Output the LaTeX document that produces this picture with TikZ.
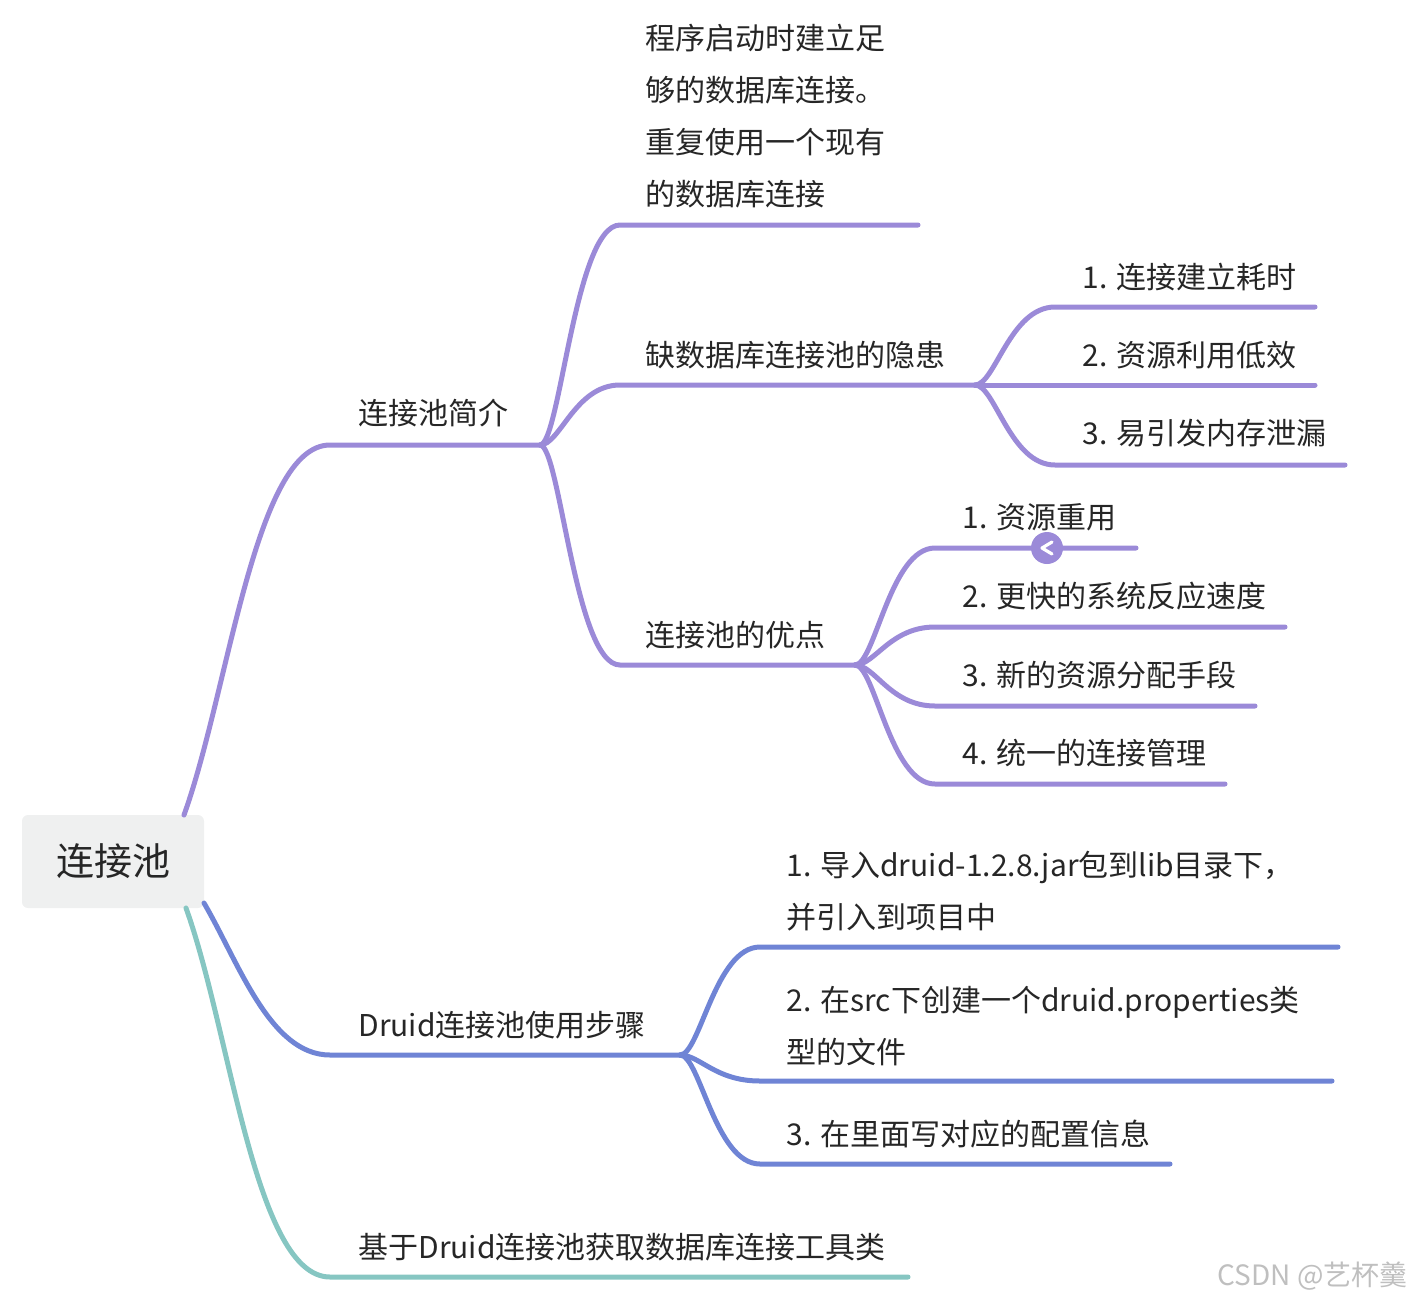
\documentclass[tikz,border=0pt]{standalone}
\usepackage{fontspec}
\setmainfont{Noto Sans CJK SC}

\definecolor{purp}{HTML}{9B8AD8}
\definecolor{blu}{HTML}{6F84D5}
\definecolor{aqua}{HTML}{86C6C2}
\definecolor{rootbg}{HTML}{EFF0F0}
\definecolor{ink}{HTML}{262626}

\begin{document}
\begin{tikzpicture}[x=0.5pt, y=-0.5pt,
    branch/.style={line width=2.5pt, line cap=round},
    lbl/.style={anchor=base west, inner sep=0pt, text=ink, align=left,
        font=\fontsize{15}{26}\selectfont}]
    \useasboundingbox (0,0) rectangle (1412,1301);

    % root
    \node[fill=rootbg, rounded corners=3pt, inner sep=0pt, minimum width=91pt, minimum height=46.5pt,
        text=ink, font=\fontsize{19}{22}\selectfont] (root) at (113,861.5) {连接池};

    \coordinate (rootN) at (184,815);
    \coordinate (rootE) at (204,903);
    \coordinate (rootS) at (186,908);
    \coordinate (introJ) at (540,445);
    \coordinate (riskJ) at (975,385);
    \coordinate (prosJ) at (855,665);
    \coordinate (druidJ) at (680,1055);

    % first level
    \draw[branch, purp] (rootN) .. controls +(45,-125) and +(-75,0) .. (330,445) -- (introJ);
    \draw[branch, blu] (rootE) .. controls +(35,60) and +(-60,0) .. (330,1055) -- (druidJ);
    \draw[branch, aqua] (rootS) .. controls +(45,125) and +(-75,0) .. (330,1277) -- (908,1277);

    % second level
    \draw[branch, purp] (introJ) .. controls +(20,0) and +(-45,0) .. (620,225) -- (918,225);
    \draw[branch, purp] (introJ) .. controls +(20,0) and +(-45,0) .. (620,385) -- (riskJ);
    \draw[branch, purp] (introJ) .. controls +(20,0) and +(-45,0) .. (620,665) -- (prosJ);

    \draw[branch, blu] (druidJ) .. controls +(20,0) and +(-45,0) .. (760,947) -- (1338,947);
    \draw[branch, blu] (druidJ) .. controls +(20,0) and +(-45,0) .. (760,1081) -- (1332,1081);
    \draw[branch, blu] (druidJ) .. controls +(20,0) and +(-45,0) .. (760,1164) -- (1170,1164);

    % third level
    \draw[branch, purp] (riskJ) .. controls +(20,0) and +(-45,0) .. (1055,307) -- (1315,307);
    \draw[branch, purp] (riskJ) -- (1315,385);
    \draw[branch, purp] (riskJ) .. controls +(20,0) and +(-45,0) .. (1055,465) -- (1345,465);

    \draw[branch, purp] (prosJ) .. controls +(20,0) and +(-45,0) .. (935,548) -- (1136,548);
    \draw[branch, purp] (prosJ) .. controls +(20,0) and +(-45,0) .. (935,627) -- (1285,627);
    \draw[branch, purp] (prosJ) .. controls +(20,0) and +(-45,0) .. (935,706) -- (1255,706);
    \draw[branch, purp] (prosJ) .. controls +(20,0) and +(-45,0) .. (935,784) -- (1225,784);

    % collapse marker
    \fill[purp] (1047,548) circle (16);
    \draw[white, line width=1.6pt, line cap=round, line join=round] (1052,542) -- (1042,548) -- (1052,554);

    % labels
    \node[lbl] (intro) at (358,424) {连接池简介};
    \node[lbl] (defn) at (645,205) {程序启动时建立足\\够的数据库连接。\\重复使用一个现有\\的数据库连接};
    \node[lbl] (risk) at (645,366) {缺数据库连接池的隐患};
    \node[lbl] (risk1) at (1082,288) {1. 连接建立耗时};
    \node[lbl] (risk2) at (1082,366) {2. 资源利用低效};
    \node[lbl] (risk3) at (1082,444) {3. 易引发内存泄漏};
    \node[lbl] (pros) at (645,646) {连接池的优点};
    \node[lbl] (pro1) at (962,528) {1. 资源重用};
    \node[lbl] (pro2) at (962,607) {2. 更快的系统反应速度};
    \node[lbl] (pro3) at (962,686) {3. 新的资源分配手段};
    \node[lbl] (pro4) at (962,764) {4. 统一的连接管理};

    \node[lbl] (druid) at (358,1036) {Druid连接池使用步骤};
    \node[lbl] (step1) at (786,928) {1. 导入druid-1.2.8.jar包到lib目录下，\\并引入到项目中};
    \node[lbl] (step2) at (786,1063) {2. 在src下创建一个druid.properties类\\型的文件};
    \node[lbl] (step3) at (786,1145) {3. 在里面写对应的配置信息};

    \node[lbl] (util) at (358,1258) {基于Druid连接池获取数据库连接工具类};

    \node[anchor=base east, inner sep=0pt, text=black!25, font=\fontsize{14}{16}\selectfont] (mark) at (1408,1285) {CSDN @艺杯羹};
\end{tikzpicture}
\end{document}
